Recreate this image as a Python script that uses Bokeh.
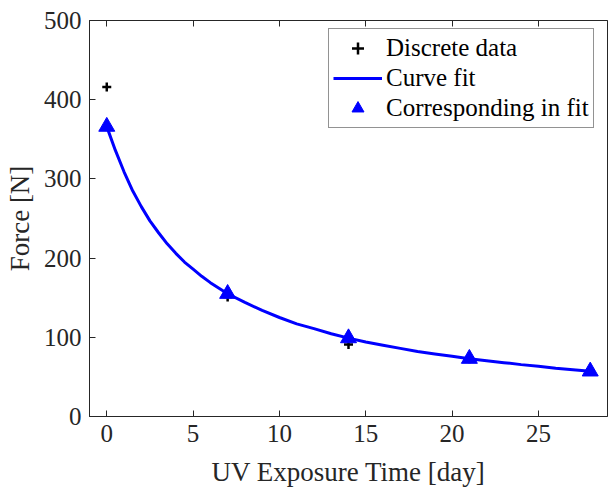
from bokeh.plotting import figure
from bokeh.models import Range1d, LinearAxis, Legend, LegendItem, FixedTicker
from bokeh.embed import file_html
from bokeh.resources import INLINE

# ---- data ----
days = [0, 7, 14, 21, 28]
discrete_force = [416, 151, 91, 73, 57]
fit_force = [366, 155, 99, 73, 57]
curve_days = [0, 0.5, 1, 1.5, 2, 2.5, 3, 3.5, 4, 4.5, 5, 5.5, 6, 6.5, 7, 8, 9, 10,
              11, 12, 13, 14, 15, 16, 17, 18, 19, 20, 21, 22, 23, 24, 25, 26, 27, 28]
curve_force = [366, 336, 309, 285, 265, 247, 232, 218, 206, 195, 186, 177, 169, 162, 155,
               144, 134, 125, 117, 111, 104.5, 99, 94, 90, 86, 82, 79, 76, 73, 70.5,
               68, 65.5, 63.5, 61, 59, 57]
x_ticks = [0, 5, 10, 15, 20, 25]
y_ticks = [0, 100, 200, 300, 400, 500]

FONT = "Liberation Serif"
INK = "#262626"
FS = "25px"
LFS = "27px"

p = figure(width=608, height=491, output_backend="svg", toolbar_location=None,
           x_range=Range1d(-1, 29), y_range=Range1d(0, 500),
           min_border_left=89, min_border_right=1, min_border_top=20, min_border_bottom=75)
p.xgrid.visible = False
p.ygrid.visible = False
p.outline_line_color = INK
p.background_fill_color = "white"
p.border_fill_color = "white"

top_axis = LinearAxis(ticker=FixedTicker(ticks=x_ticks),
                      major_label_overrides={t: "" for t in x_ticks})
p.add_layout(top_axis, "above")

bottom_axis = p.below[0]
left_axis = p.left[0]
bottom_axis.ticker = FixedTicker(ticks=x_ticks)
left_axis.ticker = FixedTicker(ticks=y_ticks)

for ax in (bottom_axis, left_axis, top_axis):
    ax.major_tick_in = 6
    ax.major_tick_out = 0
    ax.minor_tick_in = 0
    ax.minor_tick_out = 0
    ax.axis_line_color = INK
    ax.major_tick_line_color = INK
    ax.major_label_text_font = FONT
    ax.major_label_text_font_size = FS
    ax.major_label_text_color = INK
    ax.axis_label_text_font = FONT
    ax.axis_label_text_font_size = LFS
    ax.axis_label_text_font_style = "normal"
    ax.axis_label_text_color = INK

top_axis.major_label_standoff = 0

bottom_axis.axis_label = "UV Exposure Time [day]"
left_axis.axis_label = "Force [N]"
bottom_axis.major_label_standoff = 8
left_axis.major_label_standoff = 8
bottom_axis.axis_label_standoff = 12
left_axis.axis_label_standoff = 6

r_disc = p.scatter(days, discrete_force, marker="cross", size=9, line_width=2.5,
                   line_color="black")
r_curve = p.line(curve_days, curve_force, line_color="#0000ff", line_width=3)
r_fit = p.scatter(days, fit_force, marker="triangle", size=16, fill_color="#0000ff",
                  line_color="#0000ff")

legend = Legend(items=[LegendItem(label="Discrete data", renderers=[r_disc]),
                       LegendItem(label="Curve fit", renderers=[r_curve]),
                       LegendItem(label="Corresponding in fit", renderers=[r_fit])],
                location=(239, 288))
legend.label_text_font = FONT
legend.label_text_font_size = FS
legend.label_text_color = "black"
legend.border_line_color = INK
legend.border_line_width = 1
legend.padding = 4
legend.spacing = 0
legend.margin = 0
legend.glyph_width = 49
legend.glyph_height = 30
legend.label_height = 30
legend.label_standoff = 4
p.add_layout(legend)

open("out.html", "w").write(file_html(p, INLINE))
